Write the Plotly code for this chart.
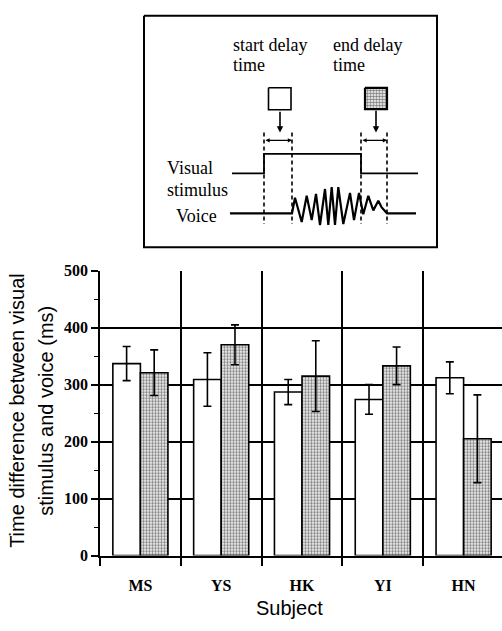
import plotly.graph_objects as go

W, H = 502, 631

# ---------------- data ----------------
subjects = ["MS", "YS", "HK", "YI", "HN"]
start_delay = [337, 309, 287, 274, 312]
start_err = [30, 47, 22, 26, 28]
end_delay = [321, 370, 315, 333, 205]
end_err = [40, 35, 62, 33, 77]
y_ticks = [0, 100, 200, 300, 400, 500]

# ---------------- schematic (page pixel coordinates) ----------------
box_x = [144, 437, 437, 144, 144]
box_y = [8, 8, 246, 246, 8]
visual_x = [232, 264, 264, 361, 361, 418]
visual_y = [170, 170, 150, 150, 170, 170]
voice_x = [230, 292, 295, 301.7, 306.7, 311.7, 316, 320, 325, 328.3, 331.7, 335, 338.3,
           343.3, 350, 354, 359, 363.3, 368.3, 373.3, 378.3, 381.7, 387, 416]
voice_y = [211, 211, 195, 220, 193, 218, 191, 223, 186, 223, 184, 223, 184,
           222, 190, 218, 190, 212, 193, 208, 198, 205, 211, 211]
dash_x = [264, 292, 361, 387]
dash_top, dash_bot = 128, 222
sq_white = (268.5, 291, 82, 104.5)
sq_gray = (365, 387, 82, 104)

fig = go.Figure()

# main bars
fig.add_trace(go.Bar(
    x=list(range(len(subjects))), y=start_delay, name="start delay time",
    marker=dict(color="white", line=dict(color="black", width=1.6)),
    error_y=dict(type="data", array=start_err, color="black", thickness=1.6, width=4),
))
fig.add_trace(go.Bar(
    x=list(range(len(subjects))), y=end_delay, name="end delay time",
    marker=dict(color="white", line=dict(color="black", width=1.6),
                pattern=dict(shape=".", fgcolor="black", bgcolor="white", size=3, solidity=0.5)),
    error_y=dict(type="data", array=end_err, color="black", thickness=1.6, width=4),
))

# schematic traces
ax2 = dict(xaxis="x2", yaxis="y2", hoverinfo="skip", showlegend=False)
fig.add_trace(go.Scatter(x=box_x, y=box_y, mode="lines", line=dict(color="black", width=2), **ax2))
fig.add_trace(go.Scatter(x=visual_x, y=visual_y, mode="lines", line=dict(color="black", width=1.8), **ax2))
fig.add_trace(go.Scatter(x=voice_x, y=voice_y, mode="lines", line=dict(color="black", width=2.2), **ax2))
dx, dy = [], []
for xv in dash_x:
    dx += [xv, xv, None]
    dy += [dash_top, dash_bot, None]
fig.add_trace(go.Scatter(x=dx, y=dy, mode="lines", line=dict(color="black", width=1.6, dash="4px,3px"), **ax2))
x0, x1, y0, y1 = sq_white
fig.add_trace(go.Scatter(x=[x0, x1, x1, x0, x0], y=[y0, y0, y1, y1, y0], mode="lines",
                         fill="toself", fillcolor="white", line=dict(color="black", width=1.6), **ax2))
x0, x1, y0, y1 = sq_gray
fig.add_trace(go.Scatter(x=[x0, x1, x1, x0, x0], y=[y0, y0, y1, y1, y0], mode="lines",
                         fill="toself", fillcolor="white",
                         fillpattern=dict(shape=".", fgcolor="black", bgcolor="white", size=3, solidity=0.55),
                         line=dict(color="black", width=2.2), **ax2))

cat_px = 80.8
x_left = 100
x_end = -0.5 + (W - x_left) / cat_px
y_top_px, y_bot_px = 270, 562.7

fig.update_layout(
    width=W, height=H,
    margin=dict(l=0, r=0, t=0, b=0, pad=0),
    paper_bgcolor="white", plot_bgcolor="rgba(0,0,0,0)",
    showlegend=False,
    barmode="group", bargap=0.318, bargroupgap=0,
    xaxis=dict(
        domain=[x_left / W, 1], range=[-0.5, x_end],
        tickmode="array", tickvals=list(range(len(subjects))), ticktext=subjects,
        ticks="", showgrid=False, zeroline=False,
        showline=True, linecolor="black", linewidth=1.6,
        tickfont=dict(family="Liberation Serif", size=16, color="black", weight="bold"),
        ticklabelstandoff=14,
        minor=dict(tick0=0.5, dtick=1, ticks="outside", ticklen=9, tickwidth=1.6, tickcolor="black",
                   showgrid=True, gridcolor="black", gridwidth=1.6),
        anchor="y",
    ),
    yaxis=dict(
        domain=[(H - y_bot_px) / H, (H - y_top_px) / H], range=[0, 500],
        tickmode="array", tickvals=y_ticks,
        ticks="outside", ticklen=7, tickwidth=1.6, tickcolor="black",
        showgrid=True, gridcolor="black", gridwidth=1.6, zeroline=False,
        showline=True, linecolor="black", linewidth=1.6,
        tickfont=dict(family="Liberation Serif", size=16, color="black", weight="bold"),
        minor=dict(dtick=50, tick0=0, ticks="outside", ticklen=4, tickwidth=1.4, tickcolor="black", showgrid=False),
        anchor="x",
    ),
    xaxis2=dict(domain=[0, 1], range=[0, W], visible=False, anchor="y2", fixedrange=True),
    yaxis2=dict(domain=[0, 1], range=[H, 0], visible=False, anchor="x2", fixedrange=True),
)

serif = dict(family="Liberation Serif", size=18, color="black")
sans = dict(family="Liberation Sans", size=20, color="black")


def txt(s, x, y, font, xanchor="left", **kw):
    fig.add_annotation(text=s, x=x, y=y, xref="x2", yref="y2", showarrow=False,
                       xanchor=xanchor, yanchor="middle", font=font, **kw)


txt("start delay", 231, 38, serif)
txt("time", 231, 59, serif)
txt("end delay", 331, 38, serif)
txt("time", 331, 59, serif)
txt("Visual", 165, 164, serif)
txt("stimulus", 165, 187, serif)
txt("Voice", 174, 214, serif)

# arrows
for xa, yt in [(280, 105), (376, 104)]:
    fig.add_annotation(x=xa, y=128, ax=xa, ay=yt, xref="x2", yref="y2", axref="x2", ayref="y2",
                       text="", showarrow=True, arrowhead=2, arrowsize=0.8, arrowwidth=1.6, arrowcolor="black")
for xa, xb in [(264, 292), (361, 387)]:
    fig.add_annotation(x=xb, y=136, ax=xa, ay=136, xref="x2", yref="y2", axref="x2", ayref="y2",
                       text="", showarrow=True, arrowhead=2, startarrowhead=2, arrowside="end+start",
                       arrowsize=0.6, startarrowsize=0.6, arrowwidth=1.4, arrowcolor="black")

# axis titles
txt("Time difference between visual", 17, 414, sans, xanchor="center", textangle=-90)
txt("stimulus and voice (ms)", 46, 414, sans, xanchor="center", textangle=-90)
txt("Subject", 289, 617, sans, xanchor="center")

fig.write_html("out.html")
